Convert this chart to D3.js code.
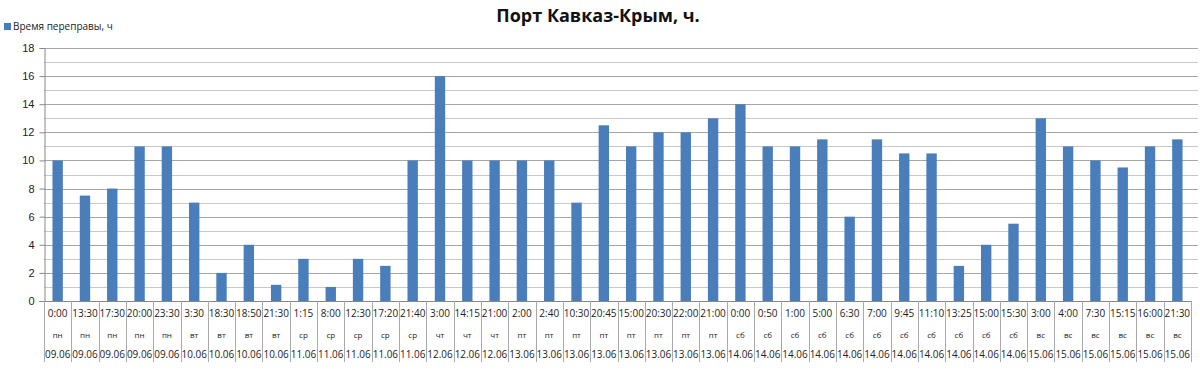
<!DOCTYPE html>
<html lang="ru">
<head>
    <meta charset="UTF-8" />
    <title>Порт Кавказ-Крым, ч.</title>
    <script src="https://d3js.org/d3.v7.min.js"></script>
    <style>
        body { margin: 0; background: #fff; }
        svg { display: block; font-family: "Open Sans", "Liberation Sans", sans-serif; }
    </style>
</head>

<body>
    <script>
        var times = ["0:00", "13:30", "17:30", "20:00", "23:30", "3:30", "18:30", "18:50", "21:30", "1:15",
            "8:00", "12:30", "17:20", "21:40", "3:00", "14:15", "21:00", "2:00", "2:40", "10:30",
            "20:45", "15:00", "20:30", "22:00", "21:00", "0:00", "0:50", "1:00", "5:00", "6:30",
            "7:00", "9:45", "11:10", "13:25", "15:00", "15:30", "3:00", "4:00", "7:30", "15:15",
            "16:00", "21:30"];
        var days = ["пн", "пн", "пн", "пн", "пн", "вт", "вт", "вт", "вт", "ср",
            "ср", "ср", "ср", "ср", "чт", "чт", "чт", "пт", "пт", "пт",
            "пт", "пт", "пт", "пт", "пт", "сб", "сб", "сб", "сб", "сб",
            "сб", "сб", "сб", "сб", "сб", "сб", "вс", "вс", "вс", "вс",
            "вс", "вс"];
        var dates = ["09.06", "09.06", "09.06", "09.06", "09.06", "10.06", "10.06", "10.06", "10.06", "11.06",
            "11.06", "11.06", "11.06", "11.06", "12.06", "12.06", "12.06", "13.06", "13.06", "13.06",
            "13.06", "13.06", "13.06", "13.06", "13.06", "14.06", "14.06", "14.06", "14.06", "14.06",
            "14.06", "14.06", "14.06", "14.06", "14.06", "14.06", "15.06", "15.06", "15.06", "15.06",
            "15.06", "15.06"];
        var values = [10, 7.5, 8, 11, 11, 7, 2, 4, 1.15, 3,
            1, 3, 2.5, 10, 16, 10, 10, 10, 10, 7,
            12.5, 11, 12, 12, 13, 14, 11, 11, 11.5, 6,
            11.5, 10.5, 10.5, 2.5, 4, 5.5, 13, 11, 10, 9.5,
            11, 11.5];
        var yTicks = [0, 2, 4, 6, 8, 10, 12, 14, 16, 18];

        var w = 1200;
        var h = 371;
        var plotLeft = 44, plotRight = 1191, plotTop = 48, plotBottom = 301;

        var svg = d3.select("body")
            .append("svg")
            .attr("width", w)
            .attr("height", h);

        var xScale = d3.scaleBand()
            .domain(d3.range(values.length))
            .range([plotLeft, plotRight])
            .paddingInner(0.62)
            .paddingOuter(0.31);

        var yScale = d3.scaleLinear()
            .domain([0, 18])
            .range([plotBottom, plotTop]);

        // gridlines every 1 unit
        svg.append("g")
            .selectAll("line")
            .data(d3.range(1, 19))
            .enter()
            .append("line")
            .attr("x1", plotLeft)
            .attr("x2", 1198)
            .attr("y1", function(d) { return Math.round(yScale(d)) + 0.5; })
            .attr("y2", function(d) { return Math.round(yScale(d)) + 0.5; })
            .attr("stroke", function(d) { return d % 2 == 0 ? "#a6a6a6" : "#c8c8c8"; })
            .attr("stroke-width", 1);

        // y axis
        var yAxis = d3.axisLeft(yScale)
            .tickValues(yTicks)
            .tickSize(5)
            .tickPadding(5);

        var gy = svg.append("g")
            .attr("transform", "translate(" + (plotLeft + 0.5) + ",0)")
            .call(yAxis);
        gy.select(".domain").attr("stroke", "#888");
        gy.selectAll(".tick line").attr("stroke", "#888");
        gy.selectAll(".tick text")
            .attr("font-size", "11px")
            .attr("fill", "#222");

        // bars
        svg.selectAll("rect.bar")
            .data(values)
            .enter()
            .append("rect")
            .attr("class", "bar")
            .attr("x", function(d, i) { return xScale(i); })
            .attr("y", function(d) { return yScale(d); })
            .attr("width", xScale.bandwidth())
            .attr("height", function(d) { return plotBottom - yScale(d); })
            .attr("fill", "#4a7ebb");

        // x axis line
        svg.append("line")
            .attr("x1", plotLeft)
            .attr("x2", plotRight)
            .attr("y1", plotBottom + 0.5)
            .attr("y2", plotBottom + 0.5)
            .attr("stroke", "#888");

        // category dividers
        var step = xScale.step();
        svg.append("g")
            .selectAll("line")
            .data(d3.range(values.length + 1))
            .enter()
            .append("line")
            .attr("x1", function(d) { return Math.round(plotLeft + d * step) + 0.5; })
            .attr("x2", function(d) { return Math.round(plotLeft + d * step) + 0.5; })
            .attr("y1", plotBottom)
            .attr("y2", 362)
            .attr("stroke", "#aaa");

        function center(i) { return xScale(i) + xScale.bandwidth() / 2; }

        var labels = svg.append("g").attr("fill", "#222").attr("text-anchor", "middle");

        labels.selectAll("text.time")
            .data(times)
            .enter()
            .append("text")
            .attr("x", function(d, i) { return center(i); })
            .attr("y", 317)
            .attr("font-size", "10px")
            .text(function(d) { return d; });

        labels.selectAll("text.day")
            .data(days)
            .enter()
            .append("text")
            .attr("x", function(d, i) { return center(i); })
            .attr("y", 338)
            .attr("font-size", "8px")
            .text(function(d) { return d; });

        labels.selectAll("text.date")
            .data(dates)
            .enter()
            .append("text")
            .attr("x", function(d, i) { return center(i); })
            .attr("y", 358)
            .attr("font-size", "10px")
            .attr("textLength", function() { return step - 2; })
            .attr("lengthAdjust", "spacingAndGlyphs")
            .text(function(d) { return d; });

        // title
        svg.append("text")
            .attr("x", 598)
            .attr("y", 22)
            .attr("text-anchor", "middle")
            .attr("font-size", "18px")
            .attr("font-weight", "bold")
            .attr("fill", "#111")
            .text("Порт Кавказ-Крым, ч.");

        // legend
        svg.append("rect")
            .attr("x", 4)
            .attr("y", 23)
            .attr("width", 7)
            .attr("height", 7)
            .attr("fill", "#4a7ebb");
        svg.append("text")
            .attr("x", 13)
            .attr("y", 30)
            .attr("font-size", "10px")
            .attr("fill", "#222")
            .text("Время переправы, ч");
    </script>
</body>
</html>
